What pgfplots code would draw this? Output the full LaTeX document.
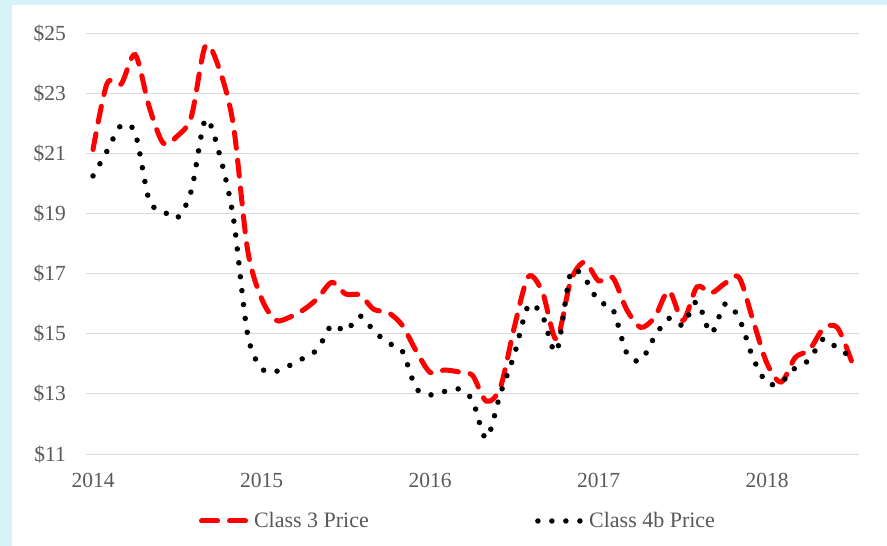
\documentclass[border=0pt]{standalone}
\usepackage{pgfplots}
\pgfplotsset{compat=1.18}
\usepackage{fontspec}
\setmainfont{Liberation Serif}
\definecolor{bgcyan}{RGB}{214,243,248}
\definecolor{gridgray}{RGB}{217,217,217}
\definecolor{txtgray}{RGB}{89,89,89}
\pgfplotsset{
  redleg/.style={legend image code/.code={\path[draw=none,fill=none] (0bp,-3bp) rectangle (49bp,3bp); \draw[red, line width=5bp, dash pattern=on 16bp off 12bp, line cap=round] (2.5bp,0bp) -- (46.5bp,0bp);}},
  blkleg/.style={legend image code/.code={\path[draw=none,fill=none] (0bp,-3bp) rectangle (48bp,3bp); \draw[black, line width=5.5bp, dash pattern=on 0bp off 14bp, line cap=round] (3bp,0bp) -- (45.5bp,0bp);}},
}
\begin{document}
\begin{tikzpicture}
\fill[bgcyan] (0,0) rectangle (887bp,546bp);
\fill[white] (12bp,0) rectangle (887bp,541bp);
\begin{axis}[
  at={(86bp,92bp)}, anchor=south west,
  scale only axis, width=772.5bp, height=420bp,
  xmin=-0.5, xmax=54.5, ymin=11, ymax=25,
  axis line style={draw=none},
  tick style={draw=none},
  ytick={11,13,...,25},
  yticklabels={\$11,\$13,\$15,\$17,\$19,\$21,\$23,\$25},
  xtick={0,12,24,36,48},
  xticklabels={2014,2015,2016,2017,2018},
  ymajorgrids, grid style={gridgray, line width=1bp},
  ticklabel style={font=\fontsize{21.5bp}{25bp}\selectfont, text=txtgray, inner sep=0pt, text height=14bp, text depth=0pt},
  yticklabel style={anchor=east, xshift=-20bp},
  xticklabel style={anchor=north, yshift=-19bp},
  legend columns=2,
  legend style={at={(axis description cs:0.1463,-0.1595)}, anchor=west,
    draw=none, fill=none, inner sep=0pt, outer sep=0pt,
    font=\fontsize{22bp}{26bp}\selectfont, text=txtgray,
    nodes={inner sep=0pt},
    /tikz/every odd column/.append style={column sep=6bp},
    /tikz/every even column/.append style={column sep=166bp}},
]
\addplot[red, line width=5bp, dash pattern=on 16bp off 12bp, line cap=round, smooth, redleg]
coordinates {
(0,21.15)(1,23.35)(2,23.33)(3,24.31)(4,22.57)(5,21.36)(6,21.60)(7,22.25)(8,24.60)(9,23.82)(10,21.94)(11,17.82)
(12,16.18)(13,15.46)(14,15.56)(15,15.81)(16,16.19)(17,16.72)(18,16.33)(19,16.30)(20,15.82)(21,15.72)(22,15.30)(23,14.44)
(24,13.72)(25,13.80)(26,13.74)(27,13.63)(28,12.76)(29,13.22)(30,15.24)(31,16.91)(32,16.39)(33,14.82)(34,16.76)(35,17.40)
(36,16.77)(37,16.88)(38,15.81)(39,15.22)(40,15.57)(41,16.44)(42,15.45)(43,16.57)(44,16.36)(45,16.69)(46,16.88)(47,15.44)
(48,14.00)(49,13.40)(50,14.22)(51,14.47)(52,15.18)(53,15.21)(54,14.10)
};
\addlegendentry{Class 3 Price}
\addplot[black, line width=5.5bp, dash pattern=on 0bp off 14bp, line cap=round, smooth, blkleg]
coordinates {
(0,20.27)(1,21.10)(2,21.95)(3,21.70)(4,19.45)(5,19.10)(6,18.87)(7,19.78)(8,22.15)(9,21.00)(10,18.85)(11,15.00)
(12,13.85)(13,13.75)(14,13.95)(15,14.20)(16,14.50)(17,15.30)(18,15.10)(19,15.60)(20,15.10)(21,14.70)(22,14.45)(23,13.20)
(24,12.97)(25,13.08)(26,13.17)(27,12.80)(28,11.52)(29,13.00)(30,14.32)(31,15.95)(32,15.60)(33,14.41)(34,17.02)(35,16.85)
(36,16.08)(37,15.84)(38,14.36)(39,14.12)(40,14.92)(41,15.52)(42,15.29)(43,16.08)(44,15.02)(45,16.00)(46,15.52)(47,14.19)
(48,13.36)(49,13.40)(50,13.87)(51,14.14)(52,14.84)(53,14.52)(54,14.24)
};
\addlegendentry{Class 4b Price}
\end{axis}
\end{tikzpicture}
\end{document}
